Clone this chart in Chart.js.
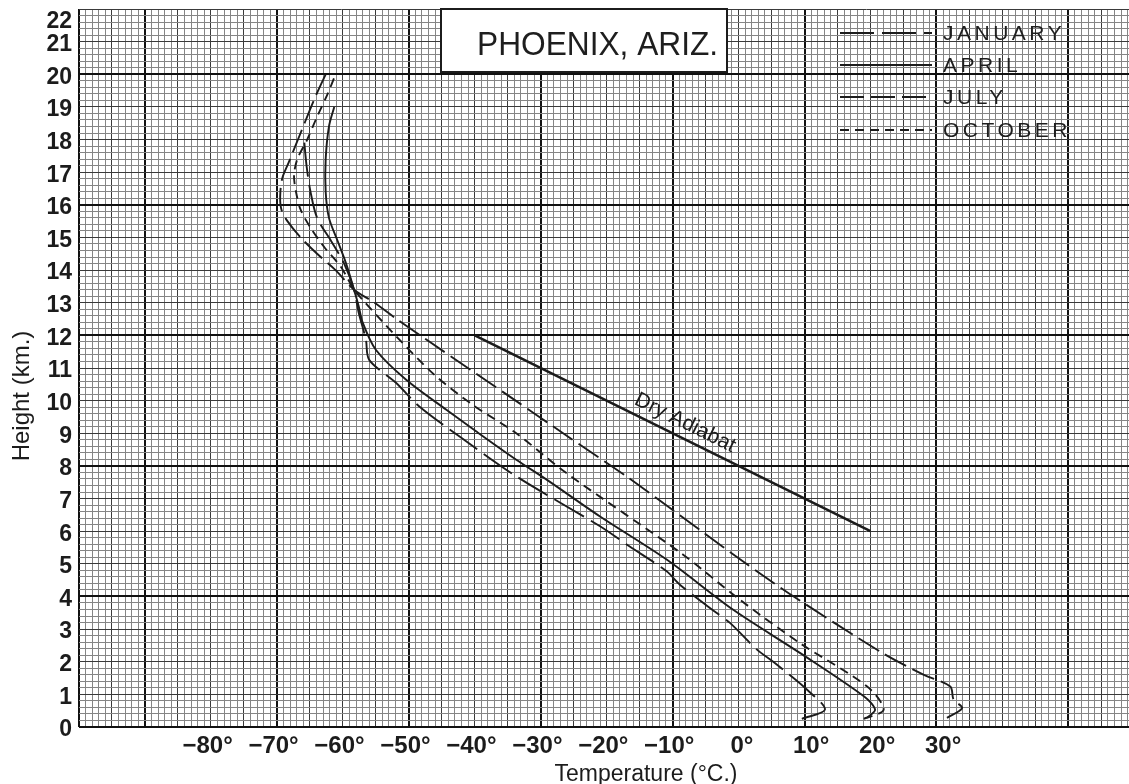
<!DOCTYPE html>
<html>
<head>
<meta charset="utf-8">
<script src="https://cdn.jsdelivr.net/npm/chart.js@4.4.1/dist/chart.umd.min.js"></script>
<style>
html,body{margin:0;padding:0;background:#fff;}
#wrap{width:1129px;height:784px;position:relative;overflow:hidden;background:#fff;}
canvas{display:block;}
</style>
</head>
<body>
<div id="wrap"><canvas id="c" width="1129" height="784"></canvas></div>
<script>
// ---------- data ----------
const xTickLabels = [-80, -70, -60, -50, -40, -30, -20, -10, 0, 10, 20, 30];
const yTickLabels = [0, 1, 2, 3, 4, 5, 6, 7, 8, 9, 10, 11, 12, 13, 14, 15, 16, 17, 18, 19, 20, 21, 22];
const seriesNames = ['JANUARY', 'APRIL', 'JULY', 'OCTOBER'];

// temperature (°C) and height (km) pairs, surface -> top
const janT = [9.6, 13.1, 10.4, 5.5, 2.8, -1.3, -3.3, -8.9, -10.9, -16.5, -21.0, -33.7, -42.3, -48.4, -51.9, -56.0, -56.5, -57.6, -58.3, -59.8, -61.8, -63.9, -64.9, -65.5, -65.9];
const janH = [0.25, 0.53, 1.14, 1.96, 2.37, 3.19, 3.49, 4.36, 4.77, 5.53, 6.15, 7.68, 8.9, 9.82, 10.54, 11.25, 11.87, 12.7, 13.4, 14.2, 14.9, 15.6, 16.4, 17.2, 18.05];

const aprT = [19.5, 20.7, 19.0, 9.3, -0.8, -10.9, -21.0, -29.1, -33.7, -39.8, -44.3, -50.4, -55.0, -57.0, -57.6, -58.3, -59.5, -60.8, -62.1, -62.6, -62.6, -62.1, -61.3];
const aprH = [0.28, 0.53, 0.94, 2.27, 3.59, 5.13, 6.45, 7.58, 8.19, 9.06, 9.72, 10.64, 11.56, 12.4, 12.9, 13.4, 14.2, 14.9, 15.6, 16.4, 17.4, 18.4, 19.0];

const julT = [31.6, 33.9, 32.6, 32.1, 28.1, 21.8, 7.6, 0.7, -5.6, -12.1, -17.0, -26.6, -33.8, -46.9, -51.7, -55.2, -58.3, -61.1, -63.9, -66.4, -68.4, -69.3, -69.5, -69.2, -68.2, -66.4, -64.4, -62.6];
const julH = [0.28, 0.58, 0.84, 1.24, 1.6, 2.27, 4.1, 5.07, 6.0, 6.96, 7.68, 9.0, 10.0, 11.81, 12.48, 13.0, 13.4, 14.0, 14.5, 15.0, 15.5, 15.85, 16.25, 16.8, 17.3, 18.2, 19.2, 20.0];

const octT = [19.0, 22.0, 19.5, 9.3, 0.2, -8.4, -26.1, -33.7, -40.3, -46.1, -51.9, -57.0, -58.3, -60.3, -62.8, -64.9, -66.4, -67.1, -67.4, -66.9, -65.4, -63.9, -62.3, -61.1];
const octH = [0.25, 0.53, 1.24, 2.57, 3.9, 5.28, 7.78, 9.0, 9.87, 10.79, 11.97, 13.09, 13.4, 14.1, 14.7, 15.3, 15.85, 16.4, 16.9, 17.4, 18.0, 18.7, 19.4, 20.0];

const dryT = [-40, 20];
const dryH = [12, 6];

// ---------- helpers ----------
const INK = '#1c1c1c';
const pts = (T, H) => T.map((t, i) => ({x: t, y: H[i]}));
// the printed labels sit with their digits centred on the line: pad so the glyph block lands there
const fmtDeg = v => v < 0 ? '\u2212' + Math.abs(v) + '\u00b0 ' : (v === 0 ? ' 0\u00b0' : '  ' + v + '\u00b0');
const noPad = s => { s.paddingTop = 0; s.paddingBottom = 0; s.paddingLeft = 0; s.paddingRight = 0; };

function xGridKind(v) {
  if (v === -100 || (v + 10) % 20 === 0) return 2;
  if (v % 5 === 0) return 1;
  return 0;
}
function yGridKind(v) {
  const i = Math.round(v * 5);
  if (i % 20 === 0) return 2;
  if (i % 5 === 0) return 1;
  return 0;
}
const gridColors = ['#858585', '#3a3a3a', '#111111'];
const gridWidths = [1, 1, 2];

const lineBase = {showLine: true, pointRadius: 0, borderColor: INK, borderWidth: 1.9, fill: false, tension: 0.3};

// ---------- plugins ----------
const decor = {
  id: 'decor',
  afterDatasetsDraw(chart) {
    const ctx = chart.ctx;
    const xs = chart.scales.x, ys = chart.scales.y;
    ctx.save();

    // Dry adiabat label
    const x1 = xs.getPixelForValue(dryT[0]), y1 = ys.getPixelForValue(dryH[0]);
    const x2 = xs.getPixelForValue(dryT[1]), y2 = ys.getPixelForValue(dryH[1]);
    const ang = Math.atan2(y2 - y1, x2 - x1);
    const t = 0.515;
    ctx.save();
    ctx.translate(x1 + (x2 - x1) * t, y1 + (y2 - y1) * t);
    ctx.rotate(ang);
    ctx.fillStyle = INK;
    ctx.font = '21px "Liberation Sans", Arial, sans-serif';
    ctx.textAlign = 'center';
    ctx.textBaseline = 'alphabetic';
    ctx.fillText('Dry Adiabat', 0, -9);
    ctx.restore();

    // Title box
    ctx.fillStyle = '#ffffff';
    ctx.fillRect(441, 9, 286, 63);
    ctx.strokeStyle = INK;
    ctx.lineWidth = 2;
    ctx.strokeRect(441, 9, 286, 63);
    ctx.save();
    ctx.fillStyle = '#1e1e1e';
    ctx.font = '33px "Liberation Sans", Arial, sans-serif';
    ctx.textBaseline = 'alphabetic';
    ctx.textAlign = 'left';
    ctx.translate(477, 55);
    ctx.scale(0.96, 1);
    ctx.fillText('PHOENIX, ARIZ.', 0, 0);
    ctx.restore();

    // Legend
    const legY = [33, 65, 97, 130];
    seriesNames.forEach((name, i) => {
      const ds = chart.data.datasets[i];
      const y = legY[i];
      ctx.setLineDash(ds.borderDash || []);
      ctx.lineWidth = 1.9;
      ctx.strokeStyle = INK;
      ctx.beginPath();
      ctx.moveTo(840, y);
      ctx.lineTo(932, y);
      ctx.stroke();
      ctx.setLineDash([]);
      ctx.fillStyle = '#1e1e1e';
      ctx.font = '21px "Liberation Sans", Arial, sans-serif';
      try { ctx.letterSpacing = '3.5px'; } catch (e) {}
      ctx.textAlign = 'left';
      ctx.textBaseline = 'middle';
      ctx.fillText(ds.label, 943, y + 1);
      try { ctx.letterSpacing = '0px'; } catch (e) {}
    });
    ctx.restore();
  },
  afterDraw(chart) {
    const ctx = chart.ctx;
    ctx.save();
    ctx.fillStyle = INK;
    ctx.font = '23px "Liberation Sans", Arial, sans-serif';
    ctx.textAlign = 'center';
    ctx.textBaseline = 'alphabetic';
    ctx.fillText('Temperature (\u00b0C.)', 646, 781);
    ctx.font = '24px "Liberation Sans", Arial, sans-serif';
    ctx.translate(29, 396);
    ctx.rotate(-Math.PI / 2);
    ctx.fillText('Height (km.)', 0, 0);
    ctx.restore();
  }
};

// ---------- chart ----------
new Chart(document.getElementById('c'), {
  type: 'scatter',
  data: {
    datasets: [
      Object.assign({label: seriesNames[0], data: pts(janT, janH), borderDash: [34, 8]}, lineBase),
      Object.assign({label: seriesNames[1], data: pts(aprT, aprH), borderDash: []}, lineBase),
      Object.assign({label: seriesNames[2], data: pts(julT, julH), borderDash: [24, 7]}, lineBase),
      Object.assign({label: seriesNames[3], data: pts(octT, octH), borderDash: [9, 6]}, lineBase),
      Object.assign({label: 'Dry Adiabat', data: pts(dryT, dryH)}, lineBase, {borderWidth: 2.6, tension: 0})
    ]
  },
  options: {
    responsive: false,
    animation: false,
    devicePixelRatio: 1,
    layout: {autoPadding: false, padding: {top: 9, left: 0, right: 0, bottom: 0}},
    plugins: {legend: {display: false}, tooltip: {enabled: false}, title: {display: false}},
    scales: {
      x: {
        type: 'linear', position: 'bottom', min: -100, max: 59.2,
        afterBuildTicks: s => { const a = []; for (let v = -100; v <= 59; v++) a.push({value: v}); s.ticks = a; },
        afterFit: s => { s.height = 57; noPad(s); },
        grid: {
          color: c => gridColors[xGridKind(c.tick.value)],
          lineWidth: c => gridWidths[xGridKind(c.tick.value)],
          drawTicks: false
        },
        border: {display: false},
        ticks: {
          autoSkip: false, maxRotation: 0, minRotation: 0, padding: 5, color: INK,
          font: {family: '"Liberation Sans", Arial, sans-serif', size: 24, weight: 'bold'},
          callback: v => xTickLabels.includes(v) ? fmtDeg(v) : ''
        }
      },
      y: {
        type: 'linear', position: 'left', min: 0, max: 22,
        afterBuildTicks: s => { const a = []; for (let i = 0; i <= 110; i++) a.push({value: i / 5}); s.ticks = a; },
        afterFit: s => { s.width = 0; noPad(s); },
        grid: {
          color: c => gridColors[yGridKind(c.tick.value)],
          lineWidth: c => gridWidths[yGridKind(c.tick.value)],
          drawTicks: false
        },
        border: {display: false},
        ticks: {display: false}
      },
      yl: {
        type: 'linear', position: 'left', min: 0, max: 22,
        afterBuildTicks: s => { s.ticks = yTickLabels.map(v => ({value: v === 22 ? 21.7 : v})); },
        afterFit: s => { s.width = 79; noPad(s); },
        grid: {display: false, drawTicks: false},
        border: {display: false},
        ticks: {
          autoSkip: false, padding: 7, color: INK, labelOffset: 3,
          font: {family: '"Liberation Sans", Arial, sans-serif', size: 23, weight: 'bold'},
          callback: (v, i) => String(yTickLabels[i])
        }
      }
    }
  },
  plugins: [decor]
});
</script>
</body>
</html>
